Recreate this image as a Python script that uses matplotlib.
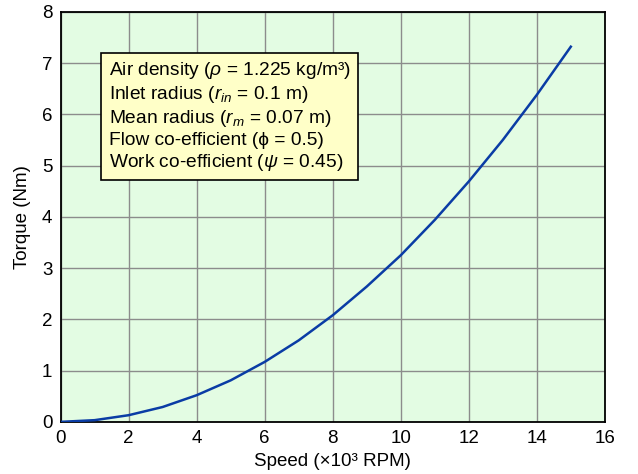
import matplotlib
matplotlib.use("Agg")
import matplotlib.pyplot as plt

plt.rcParams['font.family'] = ['Liberation Sans', 'DejaVu Sans']
plt.rcParams['mathtext.fontset'] = 'custom'
plt.rcParams['mathtext.rm'] = 'Liberation Sans'
plt.rcParams['mathtext.it'] = 'Liberation Sans:italic'

# speed in thousands of RPM, torque in Nm
speed = [0, 1, 2, 3, 4, 5, 6, 7, 8, 9, 10, 11, 12, 13, 14, 15]
torque = [0.0, 0.033, 0.13, 0.29, 0.52, 0.81, 1.17, 1.59, 2.08, 2.64,
          3.25, 3.94, 4.69, 5.50, 6.38, 7.32]

xticks = [0, 2, 4, 6, 8, 10, 12, 14, 16]
yticks = [0, 1, 2, 3, 4, 5, 6, 7, 8]

info = ("Air density ($\\rho$ = 1.225 kg/m³)\n"
        "Inlet radius ($r_{in}$ = 0.1 m)\n"
        "Mean radius ($r_m$ = 0.07 m)\n"
        "Flow co-efficient (ϕ = 0.5)\n"
        "Work co-efficient ($\\psi$ = 0.45)")

fig = plt.figure(figsize=(6.38, 4.74), dpi=100)
ax = fig.add_axes([0.095, 0.11, 0.853, 0.865])
ax.set_facecolor('#e3fce3')

ax.plot(speed, torque, color='#0a3ca5', lw=1.8, zorder=3)

ax.set_xlim(0, 16)
ax.set_ylim(0, 8)
ax.set_xticks(xticks)
ax.set_yticks(yticks)
ax.grid(True, color='#8c8c8c', lw=1.0)
ax.tick_params(length=0, labelsize=13.5, pad=6)
for s in ax.spines.values():
    s.set_linewidth(1.3)

ax.set_xlabel('Speed (×10³ RPM)', fontsize=13.5, labelpad=4)
ax.set_ylabel('Torque (Nm)', fontsize=13.5, labelpad=8)

ax.text(0.088, 0.882, info, transform=ax.transAxes, fontsize=13.8,
        va='top', ha='left', linespacing=1.2,
        bbox=dict(boxstyle='square,pad=0.4', facecolor='#ffffc8',
                  edgecolor='black', lw=1.2), zorder=5)

fig.savefig('out.png', dpi=100)
